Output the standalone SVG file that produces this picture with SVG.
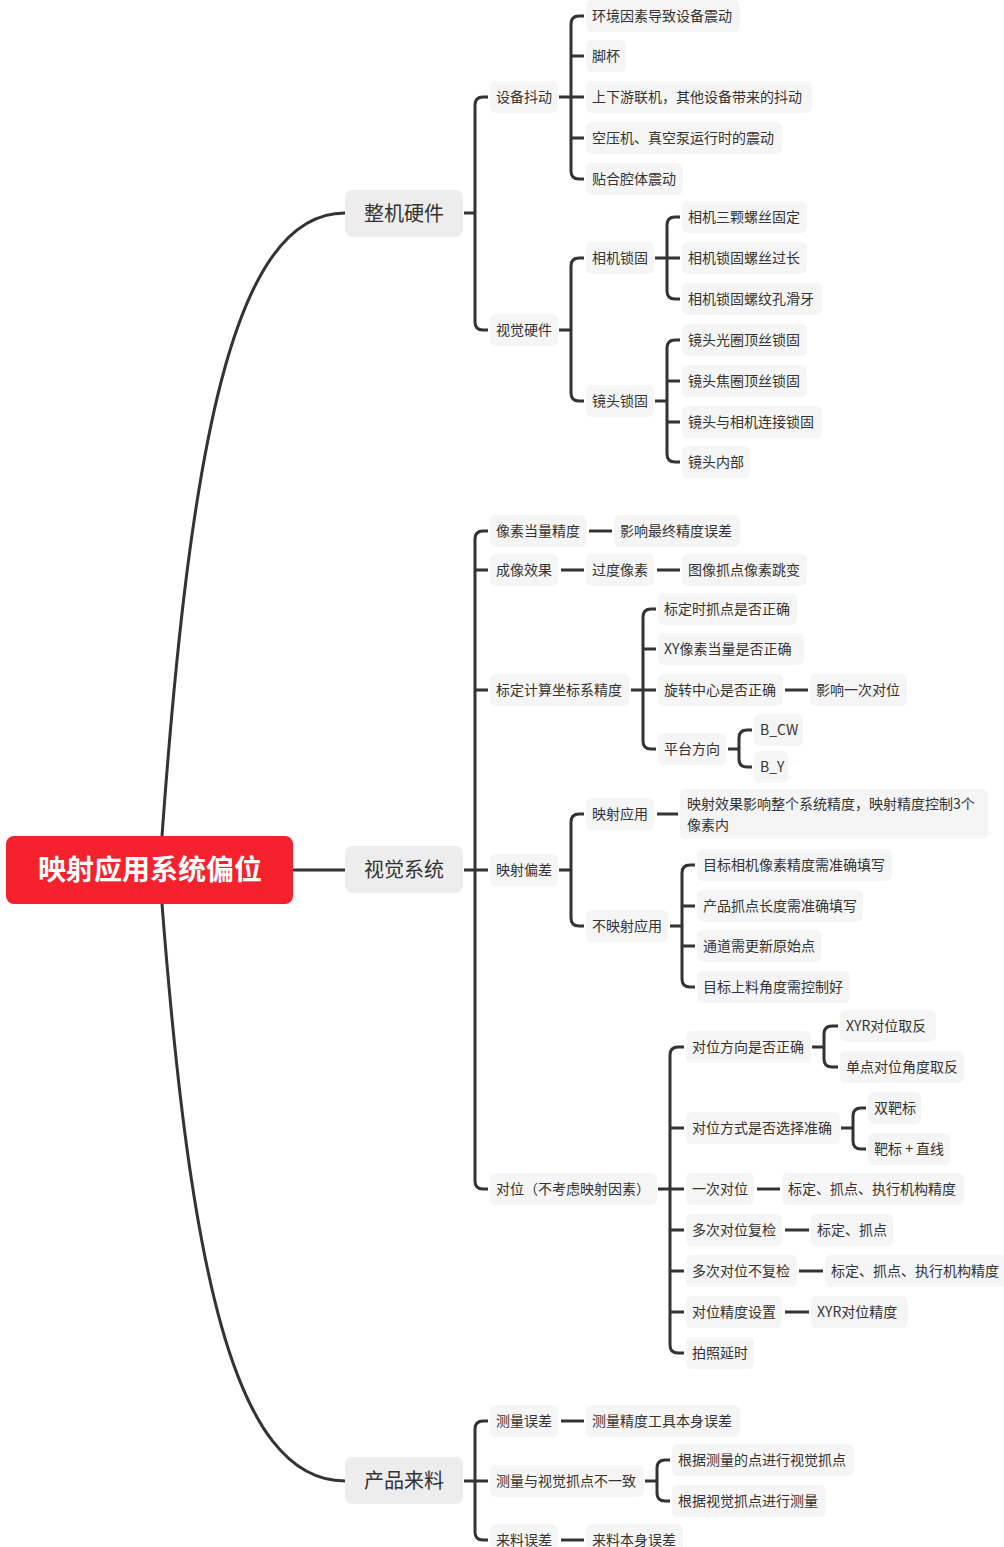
<svg xmlns="http://www.w3.org/2000/svg" width="1004" height="1547" viewBox="0 0 1004 1547">
<style>
text{font-family:"Noto Sans CJK SC","Noto Sans",sans-serif;fill:#333}
.n rect{fill:#f5f5f5}
.n text{font-size:14px}
.l1 rect{fill:#ededed}
.l1 text{font-size:20px;text-anchor:middle}
.root rect{fill:#f5222d}
.root text{font-size:28px;font-weight:bold;fill:#fff;text-anchor:middle}
#connectors path{fill:none;stroke:#333;stroke-width:3}
</style>
<rect width="1004" height="1547" fill="#fff"/>
<g id="connectors">
<path d="M162,836 C190,450 232,213 345,213"/>
<path d="M162,904 C190,1262 232,1481 345,1481"/>
<path d="M293,870 H345"/>
<!-- 整机硬件 -->
<path d="M464,213 H475 M488,97 H483 Q475,97 475,105 V322 Q475,330 483,330 H488"/>
<!-- 设备抖动 -->
<path d="M559,97 H571 M584,16 H579 Q571,16 571,24 V171 Q571,179 579,179 H584 M571,56 H584 M571,97 H584 M571,138 H584"/>
<!-- 视觉硬件 -->
<path d="M559,330 H571 M584,258 H579 Q571,258 571,266 V393 Q571,401 579,401 H584"/>
<!-- 相机锁固 -->
<path d="M655,258 H667 M680,217 H675 Q667,217 667,225 V291 Q667,299 675,299 H680 M667,258 H680"/>
<!-- 镜头锁固 -->
<path d="M655,401 H667 M680,340 H675 Q667,340 667,348 V454 Q667,462 675,462 H680 M667,381 H680 M667,422 H680"/>
<!-- 视觉系统 -->
<path d="M464,870 H475 M488,531 H483 Q475,531 475,539 V1181 Q475,1189 483,1189 H488 M475,570 H488 M475,690 H488 M475,870 H488"/>
<path d="M589,531 H612"/>
<path d="M561,570 H584 M657,570 H680"/>
<!-- 标定计算坐标系精度 -->
<path d="M631,690 H643 M656,609 H651 Q643,609 643,617 V741 Q643,749 651,749 H656 M643,649 H656 M643,690 H656"/>
<path d="M785,690 H808"/>
<!-- 平台方向 -->
<path d="M728,749 H739 M752,730 H747 Q739,730 739,738 V759 Q739,767 747,767 H752"/>
<!-- 映射偏差 -->
<path d="M559,870 H571 M584,814 H579 Q571,814 571,822 V918 Q571,926 579,926 H584"/>
<path d="M657,814 H678"/>
<!-- 不映射应用 -->
<path d="M670,926 H682 M695,865 H690 Q682,865 682,873 V979 Q682,987 690,987 H695 M682,906 H695 M682,946 H695"/>
<!-- 对位 -->
<path d="M658,1189 H670 M684,1047 H678 Q670,1047 670,1055 V1345 Q670,1353 678,1353 H684 M670,1128 H684 M670,1189 H684 M670,1230 H684 M670,1271 H684 M670,1312 H684"/>
<path d="M812,1047 H824 M838,1026 H832 Q824,1026 824,1034 V1059 Q824,1067 832,1067 H838"/>
<path d="M841,1128 H853 M866,1108 H861 Q853,1108 853,1116 V1141 Q853,1149 861,1149 H866"/>
<path d="M757,1189 H780"/>
<path d="M785,1230 H809"/>
<path d="M799,1271 H823"/>
<path d="M785,1312 H809"/>
<!-- 产品来料 -->
<path d="M464,1481 H475 M488,1421 H483 Q475,1421 475,1429 V1532 Q475,1540 483,1540 H488 M475,1481 H488"/>
<path d="M561,1421 H584"/>
<path d="M645,1481 H657 M670,1460 H665 Q657,1460 657,1468 V1493 Q657,1501 665,1501 H670"/>
<path d="M561,1540 H584"/>
</g>

<g id="root" class="root"><rect x="6" y="836" width="287" height="68" rx="8"/><text x="150" y="880">映射应用系统偏位</text></g>

<g id="n-zjyj" class="l1"><rect x="345" y="190" width="118" height="47" rx="7"/><text x="404" y="221">整机硬件</text></g>
<g id="n-sjxt" class="l1"><rect x="345" y="846" width="118" height="47" rx="7"/><text x="404" y="877">视觉系统</text></g>
<g id="n-cply" class="l1"><rect x="345" y="1457" width="118" height="47" rx="7"/><text x="404" y="1488">产品来料</text></g>

<g id="n-sbdd" class="n"><rect x="490" y="81" width="68" height="32" rx="6"/><text x="496" y="102">设备抖动</text></g>
<g id="n-sjyj" class="n"><rect x="490" y="314" width="68" height="32" rx="6"/><text x="496" y="335">视觉硬件</text></g>
<g id="n-hjys" class="n"><rect x="586" y="0" width="154" height="32" rx="6"/><text x="592" y="21">环境因素导致设备震动</text></g>
<g id="n-jb" class="n"><rect x="586" y="40" width="40" height="32" rx="6"/><text x="592" y="61">脚杯</text></g>
<g id="n-sxy" class="n"><rect x="586" y="81" width="226" height="32" rx="6"/><text x="592" y="102">上下游联机，其他设备带来的抖动</text></g>
<g id="n-kyj" class="n"><rect x="586" y="122" width="196" height="32" rx="6"/><text x="592" y="143">空压机、真空泵运行时的震动</text></g>
<g id="n-thqt" class="n"><rect x="586" y="163" width="97" height="32" rx="6"/><text x="592" y="184">贴合腔体震动</text></g>
<g id="n-xjsg" class="n"><rect x="586" y="242" width="68" height="32" rx="6"/><text x="592" y="263">相机锁固</text></g>
<g id="n-jtsg" class="n"><rect x="586" y="385" width="68" height="32" rx="6"/><text x="592" y="406">镜头锁固</text></g>
<g id="n-xj1" class="n"><rect x="682" y="201" width="125" height="32" rx="6"/><text x="688" y="222">相机三颗螺丝固定</text></g>
<g id="n-xj2" class="n"><rect x="682" y="242" width="125" height="32" rx="6"/><text x="688" y="263">相机锁固螺丝过长</text></g>
<g id="n-xj3" class="n"><rect x="682" y="283" width="140" height="32" rx="6"/><text x="688" y="304">相机锁固螺纹孔滑牙</text></g>
<g id="n-jt1" class="n"><rect x="682" y="324" width="125" height="32" rx="6"/><text x="688" y="345">镜头光圈顶丝锁固</text></g>
<g id="n-jt2" class="n"><rect x="682" y="365" width="125" height="32" rx="6"/><text x="688" y="386">镜头焦圈顶丝锁固</text></g>
<g id="n-jt3" class="n"><rect x="682" y="406" width="140" height="32" rx="6"/><text x="688" y="427">镜头与相机连接锁固</text></g>
<g id="n-jt4" class="n"><rect x="682" y="446" width="68" height="32" rx="6"/><text x="688" y="467">镜头内部</text></g>

<g id="n-xsdl" class="n"><rect x="490" y="515" width="97" height="32" rx="6"/><text x="496" y="536">像素当量精度</text></g>
<g id="n-yxzz" class="n"><rect x="614" y="515" width="126" height="32" rx="6"/><text x="620" y="536">影响最终精度误差</text></g>
<g id="n-cxxg" class="n"><rect x="490" y="554" width="68" height="32" rx="6"/><text x="496" y="575">成像效果</text></g>
<g id="n-gdxs" class="n"><rect x="586" y="554" width="68" height="32" rx="6"/><text x="592" y="575">过度像素</text></g>
<g id="n-txzd" class="n"><rect x="682" y="554" width="125" height="32" rx="6"/><text x="688" y="575">图像抓点像素跳变</text></g>
<g id="n-bdjs" class="n"><rect x="490" y="674" width="139" height="32" rx="6"/><text x="496" y="695">标定计算坐标系精度</text></g>
<g id="n-bd1" class="n"><rect x="658" y="593" width="139" height="32" rx="6"/><text x="664" y="614">标定时抓点是否正确</text></g>
<g id="n-bd2" class="n"><rect x="658" y="633" width="146" height="32" rx="6"/><text x="664" y="654">XY像素当量是否正确</text></g>
<g id="n-bd3" class="n"><rect x="658" y="674" width="125" height="32" rx="6"/><text x="664" y="695">旋转中心是否正确</text></g>
<g id="n-yxyc" class="n"><rect x="810" y="674" width="97" height="32" rx="6"/><text x="816" y="695">影响一次对位</text></g>
<g id="n-ptfx" class="n"><rect x="658" y="733" width="68" height="32" rx="6"/><text x="664" y="754">平台方向</text></g>
<g id="n-bcw" class="n"><rect x="754" y="714" width="49" height="32" rx="6"/><text x="760" y="735">B_CW</text></g>
<g id="n-by" class="n"><rect x="754" y="751" width="34" height="32" rx="6"/><text x="760" y="772">B_Y</text></g>
<g id="n-ysbc" class="n"><rect x="490" y="854" width="68" height="32" rx="6"/><text x="496" y="875">映射偏差</text></g>
<g id="n-ysyy" class="n"><rect x="586" y="798" width="68" height="32" rx="6"/><text x="592" y="819">映射应用</text></g>
<g id="n-ysxg" class="n"><rect x="680" y="789" width="308" height="50" rx="6"/><text x="687" y="809">映射效果影响整个系统精度，映射精度控制3个</text><text x="687" y="830">像素内</text></g>
<g id="n-bys" class="n"><rect x="586" y="910" width="82" height="32" rx="6"/><text x="592" y="931">不映射应用</text></g>
<g id="n-bys1" class="n"><rect x="697" y="849" width="195" height="32" rx="6"/><text x="703" y="870">目标相机像素精度需准确填写</text></g>
<g id="n-bys2" class="n"><rect x="697" y="890" width="166" height="32" rx="6"/><text x="703" y="911">产品抓点长度需准确填写</text></g>
<g id="n-bys3" class="n"><rect x="697" y="930" width="124" height="32" rx="6"/><text x="703" y="951">通道需更新原始点</text></g>
<g id="n-bys4" class="n"><rect x="697" y="971" width="153" height="32" rx="6"/><text x="703" y="992">目标上料角度需控制好</text></g>
<g id="n-dw" class="n"><rect x="490" y="1173" width="167" height="32" rx="6"/><text x="496" y="1194">对位（不考虑映射因素）</text></g>
<g id="n-dwfx" class="n"><rect x="686" y="1031" width="125" height="32" rx="6"/><text x="692" y="1052">对位方向是否正确</text></g>
<g id="n-xyrqf" class="n"><rect x="840" y="1010" width="96" height="32" rx="6"/><text x="846" y="1031">XYR对位取反</text></g>
<g id="n-dddw" class="n"><rect x="840" y="1051" width="124" height="32" rx="6"/><text x="846" y="1072">单点对位角度取反</text></g>
<g id="n-dwfs" class="n"><rect x="686" y="1112" width="154" height="32" rx="6"/><text x="692" y="1133">对位方式是否选择准确</text></g>
<g id="n-sbb" class="n"><rect x="868" y="1092" width="53" height="32" rx="6"/><text x="874" y="1113">双靶标</text></g>
<g id="n-bbzx" class="n"><rect x="868" y="1133" width="82" height="32" rx="6"/><text x="874" y="1154">靶标 + 直线</text></g>
<g id="n-ycdw" class="n"><rect x="686" y="1173" width="68" height="32" rx="6"/><text x="692" y="1194">一次对位</text></g>
<g id="n-ycdw-r" class="n"><rect x="782" y="1173" width="182" height="32" rx="6"/><text x="788" y="1194">标定、抓点、执行机构精度</text></g>
<g id="n-dcfj" class="n"><rect x="686" y="1214" width="96" height="32" rx="6"/><text x="692" y="1235">多次对位复检</text></g>
<g id="n-dcfj-r" class="n"><rect x="811" y="1214" width="82" height="32" rx="6"/><text x="817" y="1235">标定、抓点</text></g>
<g id="n-dcbfj" class="n"><rect x="686" y="1255" width="111" height="32" rx="6"/><text x="692" y="1276">多次对位不复检</text></g>
<g id="n-dcbfj-r" class="n"><rect x="825" y="1255" width="182" height="32" rx="6"/><text x="831" y="1276">标定、抓点、执行机构精度</text></g>
<g id="n-dwjd" class="n"><rect x="686" y="1296" width="96" height="32" rx="6"/><text x="692" y="1317">对位精度设置</text></g>
<g id="n-xyrjd" class="n"><rect x="811" y="1296" width="97" height="32" rx="6"/><text x="817" y="1317">XYR对位精度</text></g>
<g id="n-pzys" class="n"><rect x="686" y="1337" width="68" height="32" rx="6"/><text x="692" y="1358">拍照延时</text></g>

<g id="n-clwc" class="n"><rect x="490" y="1405" width="68" height="32" rx="6"/><text x="496" y="1426">测量误差</text></g>
<g id="n-cljd" class="n"><rect x="586" y="1405" width="154" height="32" rx="6"/><text x="592" y="1426">测量精度工具本身误差</text></g>
<g id="n-clsj" class="n"><rect x="490" y="1465" width="154" height="32" rx="6"/><text x="496" y="1486">测量与视觉抓点不一致</text></g>
<g id="n-gj1" class="n"><rect x="672" y="1444" width="182" height="32" rx="6"/><text x="678" y="1465">根据测量的点进行视觉抓点</text></g>
<g id="n-gj2" class="n"><rect x="672" y="1485" width="154" height="32" rx="6"/><text x="678" y="1506">根据视觉抓点进行测量</text></g>
<g id="n-llwc" class="n"><rect x="490" y="1524" width="68" height="32" rx="6"/><text x="496" y="1545">来料误差</text></g>
<g id="n-llbs" class="n"><rect x="586" y="1524" width="97" height="32" rx="6"/><text x="592" y="1545">来料本身误差</text></g>
</svg>
